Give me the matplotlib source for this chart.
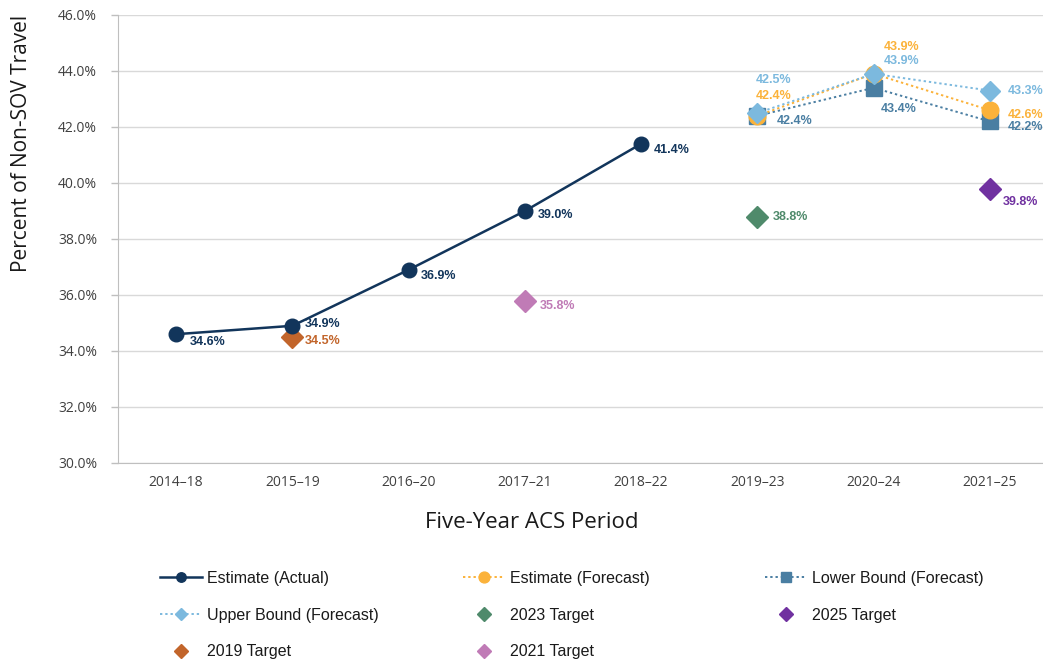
import matplotlib
matplotlib.use("Agg")
import matplotlib.pyplot as plt
from matplotlib.ticker import FuncFormatter
import numpy as np

periods = ["2014–18", "2015–19", "2016–20", "2017–21", "2018–22", "2019–23", "2020–24", "2021–25"]
actual = [34.6, 34.9, 36.9, 39.0, 41.4, None, None, None]
est_forecast = [None, None, None, None, None, 42.4, 43.9, 42.6]
lower_forecast = [None, None, None, None, None, 42.4, 43.4, 42.2]
upper_forecast = [None, None, None, None, None, 42.5, 43.9, 43.3]
target_2019 = [None, 34.5, None, None, None, None, None, None]
target_2021 = [None, None, None, 35.8, None, None, None, None]
target_2023 = [None, None, None, None, None, 38.8, None, None]
target_2025 = [None, None, None, None, None, None, None, 39.8]

def arr(v):
    return np.array([np.nan if x is None else x for x in v], dtype=float)

plt.rcParams["font.family"] = ["Open Sans", "DejaVu Sans"]
lab_font = dict(family=["Liberation Sans", "DejaVu Sans"], fontweight="bold", fontsize=9)

fig = plt.figure(figsize=(10.43, 6.61), dpi=100)
ax = fig.add_axes([118/1043, 198/661, 925/1043, 448/661])
x = np.arange(len(periods))

c_act = "#12355b"
c_est = "#fbb23a"
c_low = "#4a7ea2"
c_up = "#7cb9de"
c_23 = "#4f8a6b"
c_25 = "#7031a0"
c_19 = "#c2652b"
c_21 = "#c07bb6"

dot = (0, (1.2, 1.5))
h_act, = ax.plot(x, arr(actual), color=c_act, lw=1.8, marker="o", ms=10.5, zorder=5, label="Estimate (Actual)")
h_est, = ax.plot(x, arr(est_forecast), color=c_est, lw=1.4, ls=dot, marker="o", ms=12, zorder=4, label="Estimate (Forecast)")
h_low, = ax.plot(x, arr(lower_forecast), color=c_low, lw=1.4, ls=dot, marker="s", ms=11.5, zorder=3, label="Lower Bound (Forecast)")
h_up, = ax.plot(x, arr(upper_forecast), color=c_up, lw=1.4, ls=dot, marker="D", ms=10, zorder=6, label="Upper Bound (Forecast)")
h_23, = ax.plot(x, arr(target_2023), ls="none", color=c_23, marker="D", ms=11.5, label="2023 Target")
h_25, = ax.plot(x, arr(target_2025), ls="none", color=c_25, marker="D", ms=11.5, label="2025 Target")
h_19, = ax.plot(x, arr(target_2019), ls="none", color=c_19, marker="D", ms=11.5, label="2019 Target")
h_21, = ax.plot(x, arr(target_2021), ls="none", color=c_21, marker="D", ms=11.5, label="2021 Target")

PX = 0.72  # points per pixel at 100 dpi

def label_series(vals, color, offsets):
    for i, v in enumerate(vals):
        if v is None:
            continue
        dx, dy = offsets.get(i, (11, -5))
        ax.annotate(f"{v:.1f}%", (i, v), xytext=(dx * PX, dy * PX), textcoords="offset points",
                    ha="left", va="center", color=color, zorder=10, **lab_font)

label_series(actual, c_act, {0: (14, -8), 1: (12, 2), 2: (12, -6), 3: (13, -4), 4: (13, -6)})
label_series(target_2019, c_19, {1: (12, -4)})
label_series(target_2021, c_21, {3: (15, -5)})
label_series(target_2023, c_23, {5: (15, 0)})
label_series(target_2025, c_25, {7: (13, -13)})
label_series(est_forecast, c_est, {5: (-2, 20), 6: (10, 27), 7: (18, -5)})
label_series(upper_forecast, c_up, {5: (-2, 33), 6: (10, 13), 7: (18, 0)})
label_series(lower_forecast, c_low, {5: (19, -5), 6: (7, -21), 7: (18, -6)})

ax.set_xlim(-0.5, 7.457)
ax.set_ylim(30, 46)
ax.set_yticks(np.arange(30, 46.1, 2))
ax.yaxis.set_major_formatter(FuncFormatter(lambda v, p: f"{v:.1f}%"))
ax.set_xticks(x)
ax.set_xticklabels(periods)
ax.grid(axis="y", color="#d9d9d9", lw=1)
ax.set_axisbelow(True)
for s in ["top", "right"]:
    ax.spines[s].set_visible(False)
ax.spines["left"].set_color("#bfbfbf")
ax.spines["bottom"].set_color("#bfbfbf")
ax.tick_params(axis="y", colors="#bfbfbf", labelcolor="#404040", labelsize=10, length=5, width=1, pad=10)
ax.tick_params(axis="x", length=0, labelcolor="#404040", labelsize=10, pad=9)
ax.set_xlabel("Five-Year ACS Period", fontsize=16, color="#1a1a1a")
ax.set_ylabel("Percent of Non-SOV Travel", fontsize=15, color="#1a1a1a")
ax.xaxis.set_label_coords((532 - 118) / 925, (463 - 522) / 448)
ax.yaxis.set_label_coords((22 - 118) / 925, (463 - 143) / 448)
ax.xaxis.label.set_va("center")
ax.yaxis.label.set_va("center")

columns = [[h_act, h_up, h_19], [h_est, h_23, h_21], [h_low, h_25]]
col_x = [160, 463, 765]
for hs, cx in zip(columns, col_x):
    leg = fig.legend(handles=hs, labels=[h.get_label() for h in hs], ncol=1,
                     loc="upper left", bbox_to_anchor=(cx/1043, 1 - 571/661), frameon=False,
                     prop={"family": ["Liberation Sans", "DejaVu Sans"], "size": 11.5},
                     handlelength=2.6, handletextpad=0.35, borderpad=0, borderaxespad=0,
                     labelspacing=1.35, markerscale=0.65)
    for t in leg.get_texts():
        t.set_color("#1a1a1a")

fig.savefig("out.png", dpi=100)
